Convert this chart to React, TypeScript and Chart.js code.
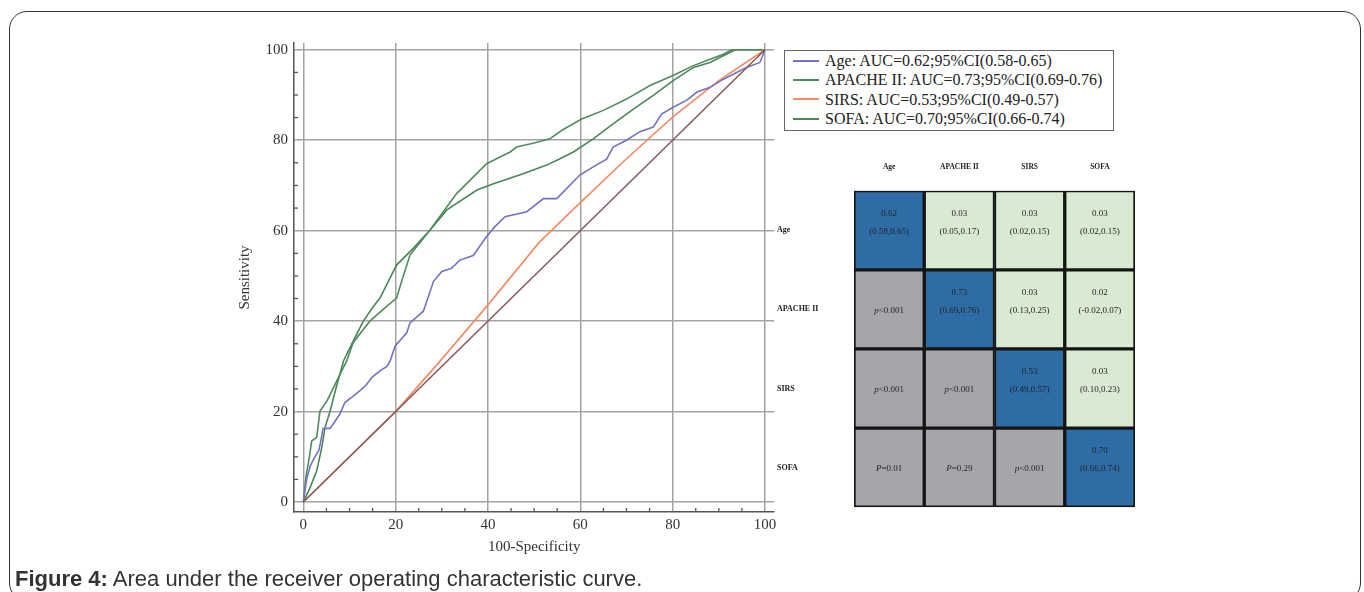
import React, { useEffect, useRef } from "react";
import { Chart, registerables } from "chart.js";

Chart.register(...registerables);

// ---------- ROC data (100-Specificity, Sensitivity) ----------
const ageX = [0, 0.7, 1.5, 2.5, 3.4, 4.3, 5.8, 7.9, 9.0, 10.8, 12.6, 13.7, 14.8, 16.6, 18.1, 18.8, 19.9, 22.4, 23.1, 26.0, 28.2, 30.0, 32.1, 33.9, 36.8, 39.7, 41.5, 43.7, 48.4, 52.0, 54.9, 59.9, 62.8, 65.7, 67.1, 70.0, 72.9, 75.8, 77.6, 80.1, 83.0, 85.2, 88.1, 91.0, 93.1, 96.0, 98.9, 100];
const ageY = [0, 5.0, 8.0, 10.0, 11.5, 16.3, 16.3, 19.4, 22.0, 23.4, 24.9, 26.0, 27.5, 29.0, 30.0, 31.2, 34.5, 37.4, 39.6, 42.2, 48.8, 51.0, 51.7, 53.5, 54.5, 58.7, 60.9, 63.1, 64.2, 67.1, 67.1, 72.3, 74.1, 75.8, 78.5, 80.0, 81.9, 82.9, 85.8, 87.3, 88.8, 90.6, 91.7, 93.5, 94.6, 96.1, 97.2, 100];

const apacheX = [0, 0.6, 1.3, 1.8, 2.9, 3.6, 5.1, 7.2, 8.3, 9.4, 10.8, 14.4, 18.1, 20.2, 21.3, 23.1, 27.4, 33.2, 39.7, 42.6, 44.8, 46.2, 50.0, 53.4, 56.0, 60.3, 65.0, 70.0, 75.1, 80.1, 84.5, 88.1, 91.0, 92.8, 100];
const apacheY = [0, 5.8, 9.9, 13.5, 14.3, 20.1, 22.3, 26.7, 29.0, 31.2, 35.3, 40.0, 43.3, 45.1, 48.8, 54.6, 60.1, 68.2, 74.8, 76.3, 77.4, 78.5, 79.4, 80.3, 82.2, 84.7, 86.6, 89.1, 92.1, 94.3, 96.5, 97.9, 99.0, 100, 100];

const sirsX = [0, 20, 30, 40, 51, 55, 60, 70, 80, 90, 100];
const sirsY = [0, 20, 31.6, 43.6, 57.3, 61.3, 66.2, 75.9, 85.1, 93.2, 100];

const sofaX = [0, 1.5, 2.9, 4.0, 4.7, 5.8, 6.9, 7.9, 8.7, 10.8, 13.0, 15.2, 16.6, 20.2, 23.8, 27.4, 31.1, 37.6, 41.2, 47.6, 52.7, 55.6, 58.5, 62.8, 67.1, 71.5, 75.8, 80.1, 84.5, 88.1, 90.2, 92.4, 93.5, 100];
const sofaY = [0, 3.3, 6.9, 12.1, 16.5, 20.1, 24.5, 28.2, 31.2, 35.6, 40.0, 43.3, 45.1, 52.4, 56.1, 60.1, 64.6, 69.0, 70.4, 72.6, 74.5, 75.9, 77.4, 80.3, 83.6, 86.9, 89.9, 93.2, 96.1, 97.2, 98.3, 99.4, 100, 100];

const refX = [0, 100];
const refY = [0, 100];

const seriesNames = ["Age", "APACHE II", "SIRS", "SOFA"];
const legendLabels = [
  "Age: AUC=0.62;95%CI(0.58-0.65)",
  "APACHE II: AUC=0.73;95%CI(0.69-0.76)",
  "SIRS: AUC=0.53;95%CI(0.49-0.57)",
  "SOFA: AUC=0.70;95%CI(0.66-0.74)",
];
const seriesColors = ["#7272c2", "#4f8b5c", "#f58a62", "#4a8657"];
const referenceColor = "#8a5a5e";

const xTickValues = [0, 20, 40, 60, 80, 100];
const yTickValues = [0, 20, 40, 60, 80, 100];
const minorStep = 5;
const xAxisTitle = "100-Specificity";
const yAxisTitle = "Sensitivity";

// ---------- comparison matrix ----------
const matrixCols = ["Age", "APACHE II", "SIRS", "SOFA"];
const matrixRows = ["Age", "APACHE II", "SIRS", "SOFA"];
const matrixLine1 = [
  ["0.62", "0.03", "0.03", "0.03"],
  ["p<0.001", "0.73", "0.03", "0.02"],
  ["p<0.001", "p<0.001", "0.53", "0.03"],
  ["P=0.01", "P=0.29", "p<0.001", "0.70"],
];
const matrixLine2 = [
  ["(0.58,0.65)", "(0.05,0.17)", "(0.02,0.15)", "(0.02,0.15)"],
  ["", "(0.69,0.76)", "(0.13,0.25)", "(-0.02,0.07)"],
  ["", "", "(0.49,0.57)", "(0.10,0.23)"],
  ["", "", "", "(0.66,0.74)"],
];
const diagColor = "#2d6ca5";
const upperColor = "#d9e9d2";
const lowerColor = "#a8a5aa";

const captionBold = "Figure 4:";
const captionText = " Area under the receiver operating characteristic curve.";

const SERIF = "'Liberation Serif', 'Times New Roman', serif";

const toPoints = (xs: number[], ys: number[]) => xs.map((x, i) => ({ x, y: ys[i] }));

const minorTicksPlugin = {
  id: "minorTicks",
  beforeDatasetsDraw(chart: any) {
    const { ctx, chartArea, scales } = chart;
    ctx.save();
    ctx.strokeStyle = "#555";
    ctx.lineWidth = 1.3;
    for (let v = 0; v <= 100; v += minorStep) {
      if (v % 20 === 0) continue;
      const px = scales.x.getPixelForValue(v);
      ctx.beginPath();
      ctx.moveTo(px, chartArea.bottom);
      ctx.lineTo(px, chartArea.bottom - 4);
      ctx.stroke();
      const py = scales.y.getPixelForValue(v);
      ctx.beginPath();
      ctx.moveTo(chartArea.left, py);
      ctx.lineTo(chartArea.left + 4, py);
      ctx.stroke();
    }
    ctx.restore();
  },
};

const cellColor = (r: number, c: number) => (r === c ? diagColor : c > r ? upperColor : lowerColor);

const drawCellText = (ctx: CanvasRenderingContext2D, text: string, cx: number, cy: number) => {
  const size = 9;
  if (/^[pP][<=]/.test(text)) {
    const first = text[0];
    const rest = text.slice(1);
    ctx.font = `italic ${size}px ${SERIF}`;
    const w1 = ctx.measureText(first).width;
    ctx.font = `${size}px ${SERIF}`;
    const w2 = ctx.measureText(rest).width;
    const x0 = cx - (w1 + w2) / 2;
    ctx.textAlign = "left";
    ctx.font = `italic ${size}px ${SERIF}`;
    ctx.fillText(first, x0, cy);
    ctx.font = `${size}px ${SERIF}`;
    ctx.fillText(rest, x0 + w1, cy);
  } else {
    ctx.textAlign = "center";
    ctx.font = `${size}px ${SERIF}`;
    ctx.fillText(text, cx, cy);
  }
};

const cellTextPlugin = {
  id: "cellText",
  afterDatasetsDraw(chart: any) {
    const { ctx } = chart;
    ctx.save();
    ctx.textBaseline = "middle";
    ctx.fillStyle = "#262626";
    matrixRows.forEach((_, r) => {
      const meta = chart.getDatasetMeta(r);
      meta.data.forEach((el: any, c: number) => {
        const cx = el.x;
        const cy = (el.y + el.base) / 2;
        const l1 = matrixLine1[r][c];
        const l2 = matrixLine2[r][c];
        if (l2) {
          drawCellText(ctx, l1, cx, cy - 17);
          drawCellText(ctx, l2, cx, cy + 1);
        } else {
          drawCellText(ctx, l1, cx, cy + 1);
        }
      });
    });
    ctx.restore();
  },
};

export default function App() {
  const mainRef = useRef<HTMLCanvasElement>(null);
  const matRef = useRef<HTMLCanvasElement>(null);

  useEffect(() => {
    const seriesX = [ageX, apacheX, sirsX, sofaX];
    const seriesY = [ageY, apacheY, sirsY, sofaY];
    const tickFont = { family: SERIF, size: 15 };

    const main = new Chart(mainRef.current as HTMLCanvasElement, {
      type: "line",
      data: {
        datasets: [
          {
            label: "Reference",
            data: toPoints(refX, refY),
            borderColor: referenceColor,
            borderWidth: 1.6,
            pointRadius: 0,
          },
          ...seriesNames.map((name, i) => ({
            label: name,
            data: toPoints(seriesX[i], seriesY[i]),
            borderColor: seriesColors[i],
            borderWidth: 1.6,
            pointRadius: 0,
          })),
        ],
      },
      options: {
        responsive: false,
        animation: false,
        layout: { padding: { top: 0, right: 15.8, bottom: 0, left: 0 } },
        plugins: { legend: { display: false }, tooltip: { enabled: false } },
        elements: { line: { tension: 0 } },
        scales: {
          x: {
            type: "linear",
            min: -2,
            max: 102,
            afterBuildTicks: (s: any) => {
              s.ticks = xTickValues.map((v) => ({ value: v }));
            },
            afterFit: (s: any) => {
              s.height = 59;
            },
            grid: { color: "#a3a3a3", lineWidth: 1.5, drawTicks: false },
            border: { display: true, color: "#555", width: 1.5 },
            ticks: { padding: 4, color: "#333", font: tickFont, maxRotation: 0, autoSkip: false },
            title: {
              display: true,
              text: xAxisTitle,
              color: "#333",
              font: tickFont,
              padding: { top: 0, bottom: 14.5 },
            },
          },
          y: {
            type: "linear",
            min: -2.2,
            max: 101.5,
            afterBuildTicks: (s: any) => {
              s.ticks = yTickValues.map((v) => ({ value: v }));
            },
            afterFit: (s: any) => {
              s.width = 64.1;
            },
            grid: { color: "#a3a3a3", lineWidth: 1.5, drawTicks: false },
            border: { display: true, color: "#555", width: 1.5 },
            ticks: { padding: 6, color: "#333", font: tickFont, autoSkip: false },
            title: {
              display: true,
              text: yAxisTitle,
              color: "#333",
              font: tickFont,
              padding: { top: 6, bottom: 0 },
            },
          },
        },
      },
      plugins: [minorTicksPlugin],
    } as any);

    const matrix = new Chart(matRef.current as HTMLCanvasElement, {
      type: "bar",
      data: {
        labels: matrixCols,
        datasets: matrixRows.map((row, r) => ({
          label: row,
          data: matrixCols.map(() => 1),
          backgroundColor: (c: any) => cellColor(r, c.dataIndex),
          borderColor: "#151515",
          borderWidth: 2,
          borderSkipped: false,
          barPercentage: 1,
          categoryPercentage: 1,
        })),
      },
      options: {
        responsive: false,
        animation: false,
        layout: { padding: { top: 0, right: 5, bottom: 5.5, left: 0 } },
        plugins: { legend: { display: false }, tooltip: { enabled: false } },
        scales: {
          x: {
            position: "top",
            stacked: true,
            grid: { display: false, drawTicks: false },
            border: { display: false },
            ticks: {
              padding: 19,
              color: "#222",
              font: { family: SERIF, size: 7.5, weight: "bold" },
              maxRotation: 0,
            },
            afterFit: (s: any) => {
              s.height = 40.7;
            },
          },
          y: {
            type: "linear",
            min: 0,
            max: 4,
            reverse: true,
            stacked: true,
            afterBuildTicks: (s: any) => {
              s.ticks = matrixRows.map((_, i) => ({ value: i + 0.5 }));
            },
            afterFit: (s: any) => {
              s.width = 77;
            },
            grid: { display: false, drawTicks: false },
            border: { display: false },
            ticks: {
              callback: (v: any) => matrixRows[Math.floor(Number(v))],
              crossAlign: "far",
              color: "#222",
              font: { family: SERIF, size: 8, weight: "bold" },
              autoSkip: false,
            },
          },
        },
      },
      plugins: [cellTextPlugin],
    } as any);

    return () => {
      main.destroy();
      matrix.destroy();
    };
  }, []);

  return (
    <div
      style={{
        position: "absolute",
        left: 0,
        top: 0,
        width: 1364,
        height: 592,
        overflow: "hidden",
        background: "#fff",
      }}
    >
      <div
        style={{
          position: "absolute",
          left: 9,
          top: 11,
          width: 1352,
          height: 590,
          border: "1.5px solid #333",
          borderRadius: 18,
          boxSizing: "border-box",
        }}
      />
      <canvas
        ref={mainRef}
        width={560}
        height={543}
        style={{ position: "absolute", left: 230, top: 27.5, width: 560, height: 543 }}
      />
      <div
        style={{
          position: "absolute",
          left: 784,
          top: 50,
          width: 330,
          height: 81,
          border: "1.5px solid #666",
          boxSizing: "border-box",
          background: "#fff",
          paddingTop: 0,
        }}
      >
        {legendLabels.map((label, i) => (
          <div
            key={label}
            style={{ display: "flex", alignItems: "center", height: 19.4, paddingLeft: 8 }}
          >
            <div style={{ width: 26, height: 2, background: seriesColors[i], marginRight: 6 }} />
            <span
              style={{
                fontFamily: SERIF,
                fontSize: 16,
                color: "#222",
                whiteSpace: "nowrap",
                lineHeight: "19.4px",
              }}
            >
              {label}
            </span>
          </div>
        ))}
      </div>
      <canvas
        ref={matRef}
        width={363}
        height={365}
        style={{ position: "absolute", left: 777, top: 150, width: 363, height: 365 }}
      />
      <div
        style={{
          position: "absolute",
          left: 15,
          top: 566,
          fontFamily: "'Liberation Sans', Arial, sans-serif",
          fontSize: 22,
          color: "#333",
          whiteSpace: "nowrap",
          lineHeight: "26px",
        }}
      >
        <b>{captionBold}</b>
        {captionText}
      </div>
    </div>
  );
}
